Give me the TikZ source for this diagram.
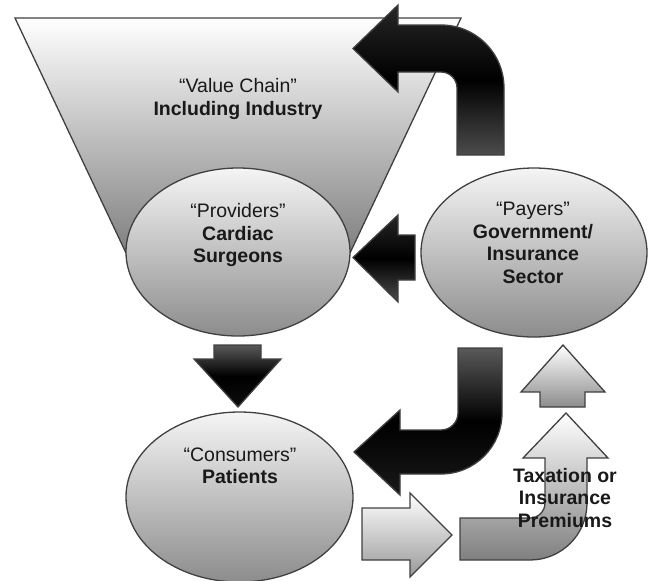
\documentclass[tikz,border=0pt]{standalone}
\usepackage{fontspec}
\setmainfont{Liberation Sans}
\usetikzlibrary{shapes.geometric}
\begin{document}
\begin{tikzpicture}[x=1pt,y=-1pt,
  outl/.style={draw=black!75, line width=1.3pt, line join=miter},
  darkarrow/.style={outl, top color=black!85, bottom color=black!70, middle color=black},
  darkdown/.style={outl, top color=black!65, bottom color=black!95, middle color=black},
  lightarrow/.style={outl, top color=white, bottom color=black!45},
  ell/.style={ellipse, draw=black!75, line width=1.3pt, inner sep=0pt, top color=white!96!black, bottom color=black!45},
  lbl/.style={font=\fontsize{19.5}{22.5}\selectfont, align=center, text=black!90, inner sep=0pt}
]
\useasboundingbox (0,0) rectangle (648,581);
\clip (0,0) rectangle (648,581);

% value chain funnel
\path[outl, top color=white, bottom color=black!50]
  (15,18) -- (461,18) -- (350,253) -- (126,253) -- cycle;

% top curved arrow (payers -> value chain)
\path[darkarrow]
  (504,155) -- (504,88) .. controls (504,53.2) and (475.8,25) .. (441,25)
  -- (398,25) -- (398,5) -- (353,48.5) -- (398,92) -- (398,72) -- (441,72)
  .. controls (449.8,72) and (457,79.2) .. (457,88) -- (457,155) -- cycle;

% ellipses
\node[ell, minimum width=224pt, minimum height=168pt] (prov) at (238,252) {};
\node[ell, minimum width=226pt, minimum height=169pt] (pay) at (534,252.5) {};
\node[ell, minimum width=227pt, minimum height=170pt] (cons) at (239.5,497) {};

% left arrow payers -> providers
\path[darkarrow]
  (415,235) -- (398,235) -- (398,215) -- (353,257.5) -- (398,302) -- (398,280) -- (415,280) -- cycle;

% down arrow providers -> consumers
\path[darkdown]
  (214,345) -- (261,345) -- (261,359) -- (281,359) -- (238,407) -- (194,359) -- (214,359) -- cycle;

% lower curved arrow payers -> consumers
\path[outl, top color=black!65, bottom color=black!90, middle color=black]
  (458,348) -- (502,348) -- (502,413) .. controls (502,446.7) and (474.7,474) .. (441,474)
  -- (400,474) -- (400,495) -- (354,452) -- (400,410) -- (400,430) -- (441,430)
  .. controls (450.4,430) and (458,422.4) .. (458,413) -- cycle;

% right arrow from consumers
\path[outl, top color=white, bottom color=black!40]
  (362,508) -- (410,508) -- (410,493) -- (452,535) -- (410,577) -- (410,560) -- (362,560) -- cycle;

% curved light arrow (taxation / premiums)
\path[outl, top color=white, bottom color=black!50]
  (460,518) -- (460,560) -- (530,560) .. controls (561.5,560) and (587,534.5) .. (587,503)
  -- (587,458) -- (608,458) -- (566,413) -- (523,458) -- (545,458) -- (545,503)
  .. controls (545,511.3) and (538.3,518) .. (530,518) -- cycle;

% small up arrow into payers
\path[outl, top color=white, bottom color=black!45]
  (540,407) -- (540,392) -- (521,392) -- (563,345) -- (605,392) -- (585,392) -- (585,407) -- cycle;

% labels
\node[lbl] (vc) at (238,99) {“Value Chain”\\\bfseries Including Industry};
\node[lbl] (provtext) at (238,235) {“Providers”\\\bfseries Cardiac\\\bfseries Surgeons};
\node[lbl] (paytext) at (533,243) {“Payers”\\\bfseries Government/\\\bfseries Insurance\\\bfseries Sector};
\node[lbl] (constext) at (240,466) {“Consumers”\\\bfseries Patients};
\node[lbl, font=\fontsize{19.5}{22.5}\selectfont\bfseries] (taxtext) at (565,498) {Taxation or\\Insurance\\Premiums};
\end{tikzpicture}
\end{document}
